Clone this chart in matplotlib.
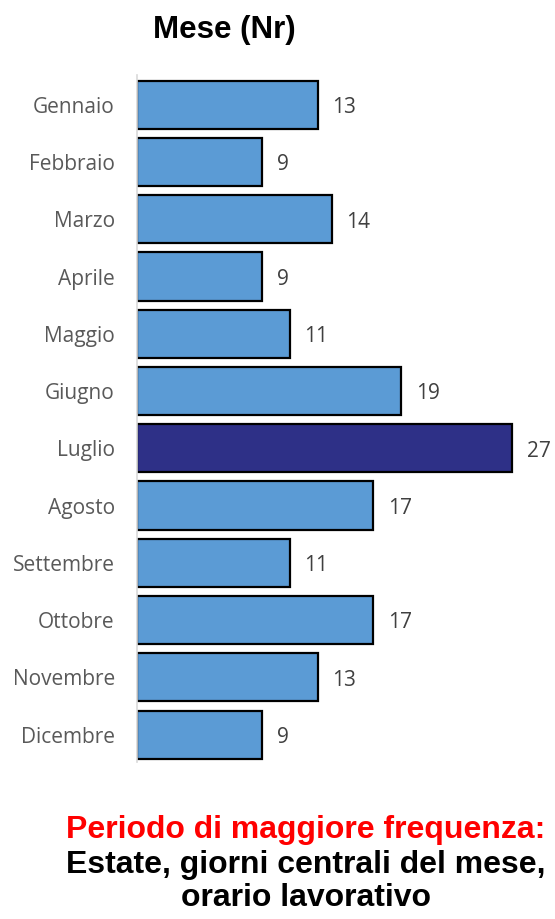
import numpy as np
import matplotlib.pyplot as plt

# Dati
mesi = ["Gennaio", "Febbraio", "Marzo", "Aprile", "Maggio", "Giugno",
        "Luglio", "Agosto", "Settembre", "Ottobre", "Novembre", "Dicembre"]
valori = [13, 9, 14, 9, 11, 19, 27, 17, 11, 17, 13, 9]
evidenziato = "Luglio"

colore_base = "#5B9BD5"
colore_top = "#2E3087"

fig = plt.figure(figsize=(5.55, 9.19), dpi=100)
ax = fig.add_axes([0.2468, 0.1708, 0.7262, 0.7476])

y = np.arange(len(mesi))
colori = [colore_top if m == evidenziato else colore_base for m in mesi]
ax.barh(y, valori, height=0.84, color=colori, edgecolor="black", linewidth=1.6)

# etichette con i valori
for yi, v in zip(y, valori):
    ax.text(v + 1.05, yi + 0.05, str(v), va="center", ha="left",
            fontsize=15, color="#404040", family="Open Sans")

ax.set_yticks(y)
ax.set_yticklabels(mesi, fontsize=15, color="#595959", family="Open Sans")
ax.tick_params(axis="y", length=0, pad=16)
ax.set_xticks([])
ax.set_xlim(0, 29)
ax.set_ylim(11.48, -0.52)
for s in ["top", "right", "bottom"]:
    ax.spines[s].set_visible(False)
ax.spines["left"].set_color("#D9D9D9")
ax.spines["left"].set_linewidth(1.2)

fig.text(224 / 555, 1 - 30 / 919, "Mese (Nr)", ha="center", va="center",
         fontsize=22.5, fontweight="bold", family="Liberation Sans")

fig.text(306 / 555, 1 - 830 / 919, "Periodo di maggiore frequenza:", ha="center", va="center",
         fontsize=23, fontweight="bold", color="#FF0000", family="Liberation Sans")
fig.text(306 / 555, 1 - 865 / 919, "Estate, giorni centrali del mese,", ha="center", va="center",
         fontsize=23, fontweight="bold", color="black", family="Liberation Sans")
fig.text(306 / 555, 1 - 898 / 919, "orario lavorativo", ha="center", va="center",
         fontsize=23, fontweight="bold", color="black", family="Liberation Sans")

fig.savefig("out.png", dpi=100)
